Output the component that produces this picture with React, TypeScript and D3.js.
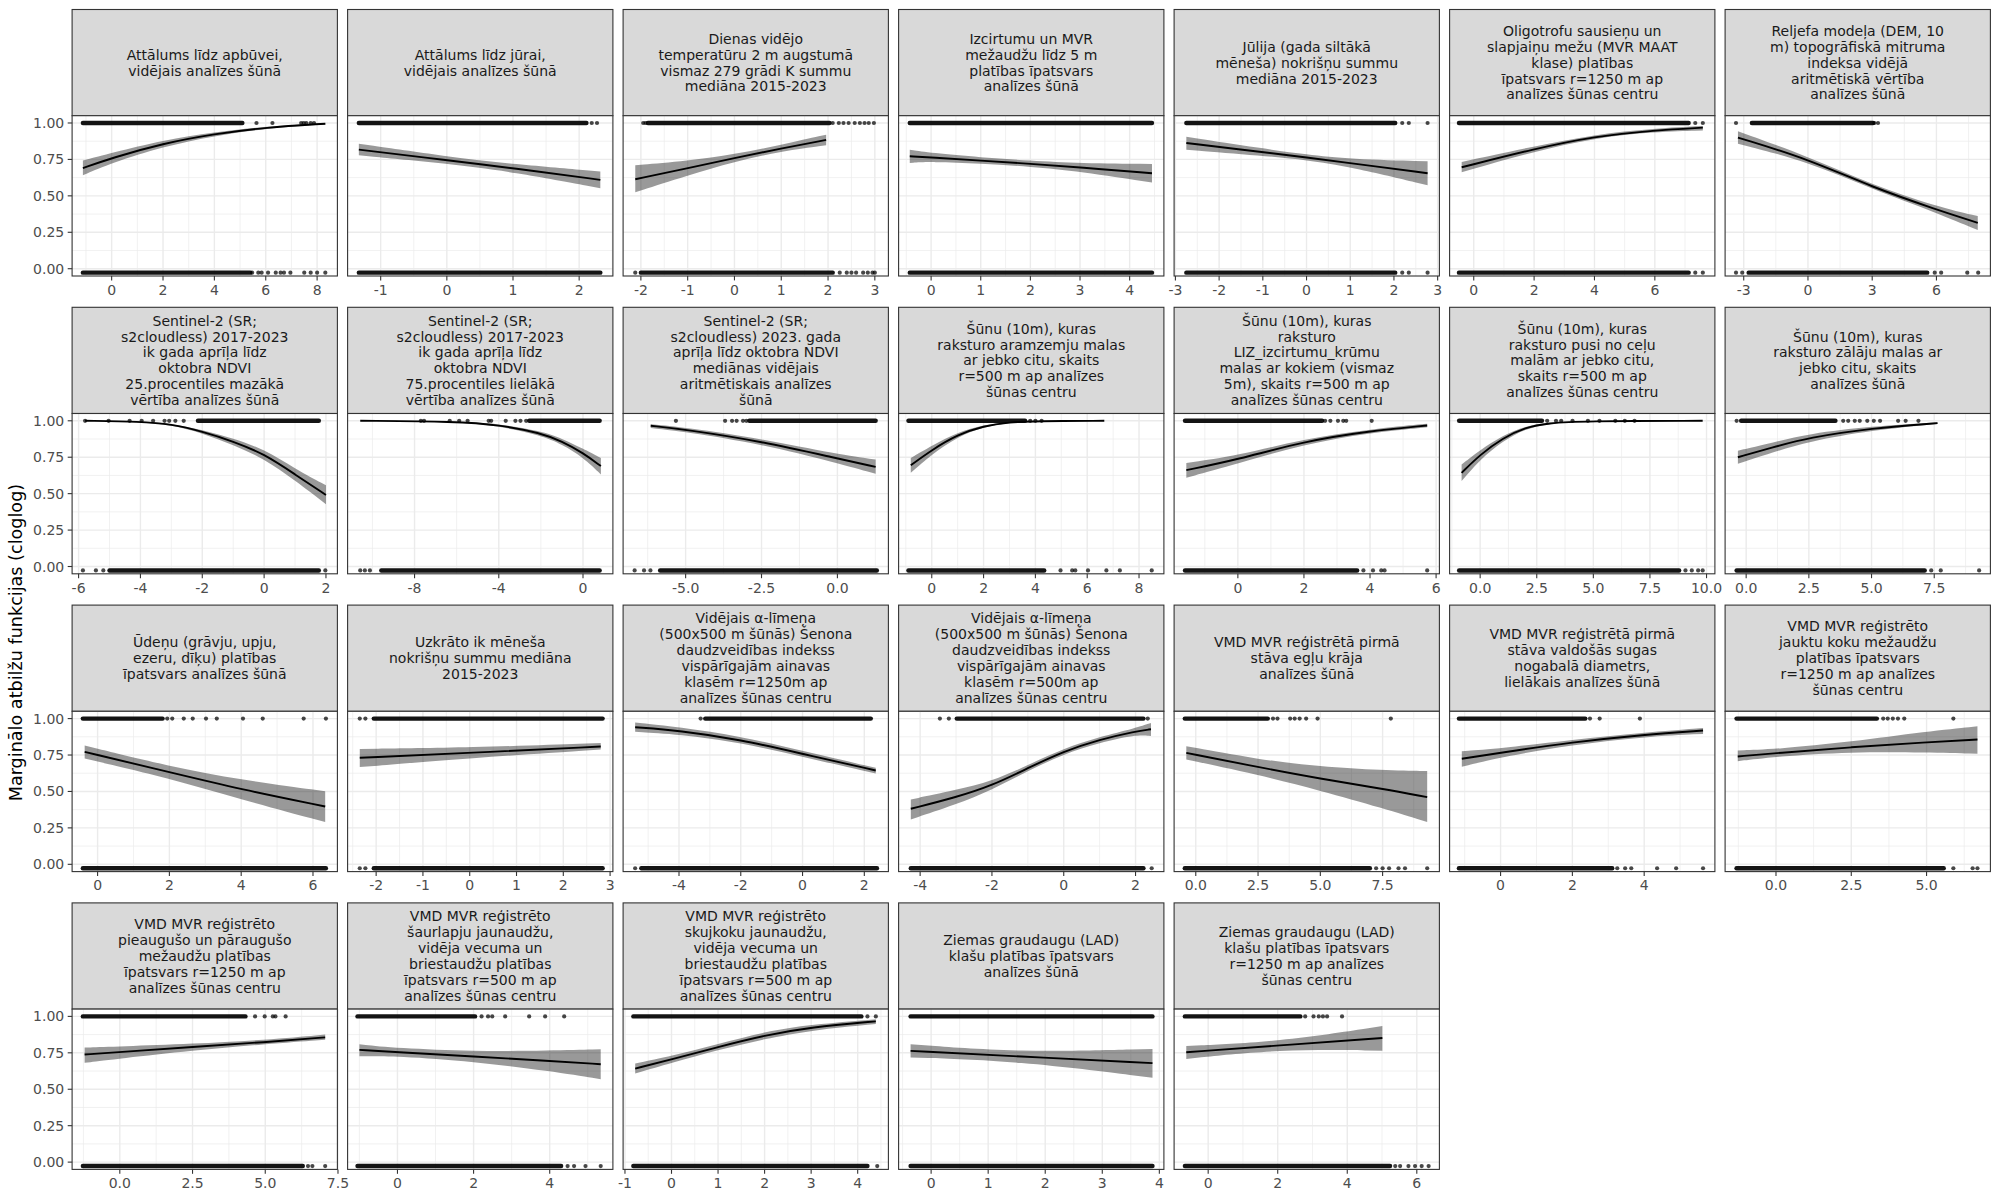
import React from 'react';
import * as d3 from 'd3';

// facet strip titles, one per panel (facet_wrap order)
const labels: string[] = [
  'Attālums līdz apbūvei,\nvidējais analīzes šūnā',
  'Attālums līdz jūrai,\nvidējais analīzes šūnā',
  'Dienas vidējo\ntemperatūru 2 m augstumā\nvismaz 279 grādi K summu\nmediāna 2015-2023',
  'Izcirtumu un MVR\nmežaudžu līdz 5 m\nplatības īpatsvars\nanalīzes šūnā',
  'Jūlija (gada siltākā\nmēneša) nokrišņu summu\nmediāna 2015-2023',
  'Oligotrofu sausieņu un\nslapjaiņu mežu (MVR MAAT\nklase) platības\nīpatsvars r=1250 m ap\nanalīzes šūnas centru',
  'Reljefa modeļa (DEM, 10\nm) topogrāfiskā mitruma\nindeksa vidējā\naritmētiskā vērtība\nanalīzes šūnā',
  'Sentinel-2 (SR;\ns2cloudless) 2017-2023\nik gada aprīļa līdz\noktobra NDVI\n25.procentiles mazākā\nvērtība analīzes šūnā',
  'Sentinel-2 (SR;\ns2cloudless) 2017-2023\nik gada aprīļa līdz\noktobra NDVI\n75.procentiles lielākā\nvērtība analīzes šūnā',
  'Sentinel-2 (SR;\ns2cloudless) 2023. gada\naprīļa līdz oktobra NDVI\nmediānas vidējais\naritmētiskais analīzes\nšūnā',
  'Šūnu (10m), kuras\nraksturo aramzemju malas\nar jebko citu, skaits\nr=500 m ap analīzes\nšūnas centru',
  'Šūnu (10m), kuras\nraksturo\nLIZ_izcirtumu_krūmu\nmalas ar kokiem (vismaz\n5m), skaits r=500 m ap\nanalīzes šūnas centru',
  'Šūnu (10m), kuras\nraksturo pusi no ceļu\nmalām ar jebko citu,\nskaits r=500 m ap\nanalīzes šūnas centru',
  'Šūnu (10m), kuras\nraksturo zālāju malas ar\njebko citu, skaits\nanalīzes šūnā',
  'Ūdeņu (grāvju, upju,\nezeru, dīķu) platības\nīpatsvars analīzes šūnā',
  'Uzkrāto ik mēneša\nnokrišņu summu mediāna\n2015-2023',
  'Vidējais α-līmeņa\n(500x500 m šūnās) Šenona\ndaudzveidības indekss\nvispārīgajām ainavas\nklasēm r=1250m ap\nanalīzes šūnas centru',
  'Vidējais α-līmeņa\n(500x500 m šūnās) Šenona\ndaudzveidības indekss\nvispārīgajām ainavas\nklasēm r=500m ap\nanalīzes šūnas centru',
  'VMD MVR reģistrētā pirmā\nstāva egļu krāja\nanalīzes šūnā',
  'VMD MVR reģistrētā pirmā\nstāva valdošās sugas\nnogabalā diametrs,\nlielākais analīzes šūnā',
  'VMD MVR reģistrēto\njauktu koku mežaudžu\nplatības īpatsvars\nr=1250 m ap analīzes\nšūnas centru',
  'VMD MVR reģistrēto\npieaugušo un pāraugušo\nmežaudžu platības\nīpatsvars r=1250 m ap\nanalīzes šūnas centru',
  'VMD MVR reģistrēto\nšaurlapju jaunaudžu,\nvidēja vecuma un\nbriestaudžu platības\nīpatsvars r=500 m ap\nanalīzes šūnas centru',
  'VMD MVR reģistrēto\nskujkoku jaunaudžu,\nvidēja vecuma un\nbriestaudžu platības\nīpatsvars r=500 m ap\nanalīzes šūnas centru',
  'Ziemas graudaugu (LAD)\nklašu platības īpatsvars\nanalīzes šūnā',
  'Ziemas graudaugu (LAD)\nklašu platības īpatsvars\nr=1250 m ap analīzes\nšūnas centru',
];

// free x scales
const xDomains: [number, number][] = [
  [-1.54, 8.79], [-1.5, 2.51], [-2.38, 3.29], [-0.655, 4.69], [-3.03, 3.04], [-0.8, 7.99], [-3.87, 8.52],
  [-6.21, 2.37], [-11.18, 1.42], [-7.06, 1.68], [-1.28, 8.96], [-1.93, 6.1], [-1.35, 10.37], [-0.84, 9.74],
  [-0.71, 6.68], [-2.61, 3.06], [-5.81, 2.78], [-4.6, 2.79], [-0.87, 9.78], [-1.42, 5.97], [-1.69, 7.12],
  [-1.64, 7.48], [-1.31, 5.66], [-1.04, 4.66], [-0.57, 4.08], [-0.98, 6.65],
];

const xTickLabels: string[][] = [
  ['0', '2', '4', '6', '8'], ['-1', '0', '1', '2'], ['-2', '-1', '0', '1', '2', '3'], ['0', '1', '2', '3', '4'],
  ['-3', '-2', '-1', '0', '1', '2', '3'], ['0', '2', '4', '6'], ['-3', '0', '3', '6'],
  ['-6', '-4', '-2', '0', '2'], ['-8', '-4', '0'], ['-5.0', '-2.5', '0.0'], ['0', '2', '4', '6', '8'],
  ['0', '2', '4', '6'], ['0.0', '2.5', '5.0', '7.5', '10.0'], ['0.0', '2.5', '5.0', '7.5'],
  ['0', '2', '4', '6'], ['-2', '-1', '0', '1', '2', '3'], ['-4', '-2', '0', '2'], ['-4', '-2', '0', '2'],
  ['0.0', '2.5', '5.0', '7.5'], ['0', '2', '4'], ['0.0', '2.5', '5.0'],
  ['0.0', '2.5', '5.0', '7.5'], ['0', '2', '4'], ['-1', '0', '1', '2', '3', '4'], ['0', '1', '2', '3', '4'],
  ['0', '2', '4', '6'],
];

const yTickLabels = ['0.00', '0.25', '0.50', '0.75', '1.00'];
const yTitle = 'Marginālo atbilžu funkcijas (cloglog)';

// response curves: x, fitted value, ribbon low / high
const fitX: number[][] = [
  [-1.12, 0, 2, 4, 6, 8.32], [-1.33, 0, 1, 2.32], [-2.12, -1, 0, 1, 1.96], [-0.43, 0, 1, 2, 3, 4.45],
  [-2.75, -1, 0, 1, 2.77], [-0.4, 2, 4, 6, 7.59], [-3.27, 0, 3, 6, 7.93],
  [-5.79, -4, -3, -2, -1, 0, 1, 2], [-10.58, -6, -4, -2, -1, 0, 0.85], [-6.15, -5, -2.5, 0, 1.26],
  [-0.81, 0, 1, 2, 3, 4, 6.66], [-1.56, 0, 2, 4, 5.73], [-0.82, 0, 1, 2, 3, 4.5, 9.83], [-0.33, 1, 2.5, 5, 7.63],
  [-0.36, 2, 4, 6.34], [-2.35, 0, 2.8], [-5.42, -4, -2, 0, 2.37], [-4.26, -3, -2, -1, 0, 1, 2, 2.43],
  [-0.38, 2.5, 5, 7.5, 9.29], [-1.08, 0, 2, 4, 5.64], [-1.27, 0, 2.5, 5, 6.69],
  [-1.21, 0, 2.5, 5, 7.06], [-1, 0, 2, 4, 5.34], [-0.78, 0, 1, 2, 3, 4.39], [-0.36, 1.5, 3.88], [-0.63, 2, 5.01],
];
const fitY: number[][] = [
  [0.69, 0.76, 0.86, 0.925, 0.97, 0.995], [0.817, 0.745, 0.69, 0.61], [0.614, 0.69, 0.76, 0.825, 0.884],
  [0.772, 0.763, 0.742, 0.72, 0.695, 0.655], [0.863, 0.8, 0.763, 0.725, 0.655], [0.696, 0.822, 0.909, 0.95, 0.968],
  [0.9, 0.753, 0.559, 0.406, 0.315],
  [1.0, 0.995, 0.977, 0.927, 0.859, 0.773, 0.632, 0.491], [1.0, 0.995, 0.973, 0.916, 0.859, 0.78, 0.689],
  [0.966, 0.94, 0.859, 0.741, 0.684], [0.695, 0.8, 0.905, 0.965, 0.99, 0.998, 1.0], [0.661, 0.734, 0.859, 0.93, 0.968],
  [0.643, 0.768, 0.882, 0.955, 0.984, 0.998, 1.0], [0.75, 0.815, 0.885, 0.95, 0.984],
  [0.772, 0.632, 0.514, 0.397], [0.731, 0.765, 0.808], [0.941, 0.918, 0.856, 0.758, 0.644],
  [0.381, 0.46, 0.54, 0.66, 0.776, 0.856, 0.913, 0.927], [0.765, 0.667, 0.587, 0.518, 0.461],
  [0.724, 0.766, 0.838, 0.89, 0.918], [0.74, 0.763, 0.804, 0.838, 0.856],
  [0.738, 0.755, 0.79, 0.823, 0.856], [0.77, 0.755, 0.725, 0.694, 0.672], [0.642, 0.705, 0.79, 0.87, 0.927, 0.966],
  [0.763, 0.726, 0.679], [0.754, 0.8, 0.852],
];
const fitLo: number[][] = [
  [0.642, 0.725, 0.838, 0.912, 0.962, 0.99], [0.778, 0.722, 0.664, 0.553], [0.525, 0.64, 0.735, 0.805, 0.847],
  [0.726, 0.735, 0.722, 0.7, 0.668, 0.591], [0.817, 0.775, 0.745, 0.7, 0.573], [0.662, 0.805, 0.897, 0.94, 0.948],
  [0.858, 0.735, 0.545, 0.385, 0.265],
  [1.0, 0.993, 0.972, 0.915, 0.835, 0.74, 0.59, 0.427], [1.0, 0.993, 0.965, 0.9, 0.838, 0.75, 0.632],
  [0.95, 0.925, 0.84, 0.71, 0.636], [0.643, 0.77, 0.89, 0.958, 0.987, 0.997, 1.0], [0.609, 0.705, 0.84, 0.918, 0.955],
  [0.586, 0.735, 0.862, 0.945, 0.98, 0.997, 1.0], [0.705, 0.78, 0.858, 0.935, 0.978],
  [0.726, 0.59, 0.445, 0.29], [0.667, 0.728, 0.788], [0.909, 0.892, 0.835, 0.738, 0.623],
  [0.308, 0.41, 0.51, 0.64, 0.757, 0.835, 0.89, 0.88], [0.719, 0.615, 0.505, 0.385, 0.29],
  [0.669, 0.735, 0.82, 0.875, 0.895], [0.708, 0.74, 0.772, 0.768, 0.758],
  [0.681, 0.71, 0.765, 0.81, 0.84], [0.727, 0.728, 0.69, 0.625, 0.569], [0.608, 0.68, 0.77, 0.845, 0.905, 0.948],
  [0.718, 0.695, 0.579], [0.708, 0.775, 0.765],
];
const fitHi: number[][] = [
  [0.742, 0.795, 0.882, 0.938, 0.977, 0.998], [0.858, 0.77, 0.718, 0.667], [0.71, 0.74, 0.785, 0.85, 0.92],
  [0.817, 0.795, 0.764, 0.742, 0.722, 0.719], [0.906, 0.825, 0.783, 0.752, 0.737], [0.733, 0.84, 0.921, 0.962, 0.98],
  [0.943, 0.771, 0.575, 0.428, 0.361],
  [1.0, 0.997, 0.982, 0.937, 0.88, 0.805, 0.672, 0.557], [1.0, 0.997, 0.98, 0.93, 0.878, 0.808, 0.745],
  [0.977, 0.955, 0.877, 0.77, 0.734], [0.745, 0.83, 0.92, 0.972, 0.993, 0.999, 1.0], [0.711, 0.762, 0.876, 0.942, 0.98],
  [0.7, 0.8, 0.9, 0.965, 0.988, 0.999, 1.0], [0.795, 0.848, 0.912, 0.962, 0.99],
  [0.815, 0.672, 0.58, 0.502], [0.792, 0.8, 0.833], [0.973, 0.942, 0.878, 0.778, 0.662],
  [0.445, 0.51, 0.57, 0.68, 0.795, 0.875, 0.935, 0.97], [0.811, 0.72, 0.67, 0.645, 0.64],
  [0.776, 0.795, 0.855, 0.905, 0.936], [0.781, 0.79, 0.84, 0.912, 0.947],
  [0.786, 0.793, 0.812, 0.838, 0.875], [0.809, 0.782, 0.76, 0.765, 0.774], [0.677, 0.728, 0.81, 0.895, 0.945, 0.98],
  [0.809, 0.752, 0.777], [0.797, 0.825, 0.934],
];

// observations at presence (1) and background (0): dense runs and isolated points
const rugTopDense: [number, number][][] = [
  [[-1.12, 5.09]], [[-1.33, 2.11]], [[-1.85, 2.03]], [[-0.43, 4.45]], [[-2.75, 2.03]], [[-0.49, 7.12]], [[-2.62, 3.04]],
  [[-2.14, 1.77]], [[-2.55, 0.79]], [[-2.9, 1.26]], [[-0.9, 3.6]], [[-1.6, 2.55]], [[-0.93, 2.73]], [[-0.2, 3.56]],
  [[-0.41, 1.81]], [[-2.05, 2.84]], [[-3.15, 2.21]], [[-2.98, 2.22]], [[-0.44, 2.89]], [[-1.16, 2.36]], [[-1.31, 3.35]],
  [[-1.27, 4.32]], [[-1.05, 2.04]], [[-0.82, 4.08]], [[-0.36, 3.88]], [[-0.67, 2.65]],
];
const rugTopSparse: number[][] = [
  [5.64, 6.26, 7.38, 7.48, 7.58, 7.75, 7.88], [2.19, 2.27],
  [-1.95, -1.9, 2.1, 2.23, 2.33, 2.44, 2.57, 2.68, 2.78, 2.87, 2.98], [], [2.19, 2.34, 2.77], [7.34, 7.59],
  [-3.36, 3.1, 3.27],
  [-5.79, -5.03, -4.35, -3.96, -3.59, -3.22, -3.07, -2.87, -2.6],
  [-7.7, -7.55, -6.33, -5.88, -5.48, -4.48, -4.36, -3.67, -3.21, -2.97, -2.7],
  [-5.32, -3.7, -3.47, -3.32, -3.11, -3.0], [3.8, 4.0, 4.24], [2.64, 2.8, 3.03, 3.19, 3.28, 4.05],
  [2.96, 3.35, 3.58, 4.08, 4.76, 5.27, 5.97, 6.39, 6.82],
  [-0.38, 3.87, 4.07, 4.33, 4.53, 4.83, 5.09, 5.34, 6.06, 6.36, 6.87],
  [1.94, 2.08, 2.4, 2.65, 3.02, 3.32, 4.05, 4.6, 5.74, 6.36], [-2.35, -2.23], [-3.3], [-3.45, -3.2, 2.34],
  [3.1, 3.28, 3.79, 3.97, 4.17, 4.43, 4.89, 7.83], [2.49, 2.76, 3.88], [3.56, 3.71, 3.88, 4.05, 4.26, 5.89],
  [4.65, 4.98, 5.26, 5.35, 5.7], [2.21, 2.38, 2.49, 2.83, 3.46, 3.88, 4.38], [4.21, 4.39], [],
  [2.79, 3.03, 3.18, 3.3, 3.42, 3.85],
];
const rugBotDense: [number, number][][] = [
  [[-1.12, 5.4]], [[-1.33, 2.32]], [[-2.0, 2.1]], [[-0.43, 4.45]], [[-2.75, 2.03]], [[-0.49, 7.12]], [[-2.77, 5.57]],
  [[-5.0, 1.77]], [[-9.58, 0.79]], [[-5.84, 1.3]], [[-0.9, 4.34]], [[-1.6, 3.61]], [[-0.93, 8.79]], [[-0.38, 7.12]],
  [[-0.41, 6.36]], [[-2.05, 2.84]], [[-5.22, 2.41]], [[-4.26, 2.22]], [[-0.44, 6.99]], [[-1.16, 3.11]], [[-1.31, 5.57]],
  [[-1.27, 6.29]], [[-1.05, 4.3]], [[-0.82, 4.21]], [[-0.36, 3.88]], [[-0.67, 5.23]],
];
const rugBotSparse: number[][] = [
  [5.47, 5.71, 5.84, 6.09, 6.39, 6.58, 6.71, 6.96, 7.5, 7.75, 8.0, 8.32], [],
  [-2.12, 2.25, 2.4, 2.5, 2.6, 2.75, 2.85, 2.95, 3.0], [], [2.19, 2.34, 2.77], [7.34, 7.59],
  [-3.36, -3.07, 5.92, 6.22, 7.44, 7.95],
  [-5.86, -5.44, -5.2, 1.98], [-10.58, -10.36, -10.12], [-6.68, -6.37, -6.16],
  [4.97, 5.42, 5.54, 6.03, 6.74, 7.26, 8.49], [3.8, 4.09, 4.34, 4.44, 5.73], [9.07, 9.35, 9.63, 9.83],
  [7.38, 7.76, 9.29],
  [], [-2.35, -2.23], [-5.42], [2.45], [7.24, 7.5, 7.76, 8.14, 8.4, 9.29], [3.25, 3.47, 3.64, 4.36, 4.89, 5.64],
  [5.89, 6.53, 6.69],
  [6.47, 6.62, 7.06], [4.47, 4.64, 4.94, 5.34], [4.42], [], [5.38, 5.52, 5.76, 5.95, 6.14, 6.34],
];

const RUG_TOP = 1.0;
const RUG_BOT = -0.027;

// layout
const NCOL = 7;
const left0 = 72.1;
const pitchX = 275.5;
const panelW = 265.3;
const top0 = 9.5;
const pitchY = 297.8;
const stripH = 106.2;
const panelH = 160.3;
const tickLen = 4.4;
const font = '"DejaVu Sans", Verdana, sans-serif';

const y = d3.scaleLinear().domain([-0.05, 1.05]).range([panelH, 0]);

type Pt = { x: number; y: number; lo: number; hi: number };

function Panel({ i }: { i: number }) {
  const col = i % NCOL;
  const row = Math.floor(i / NCOL);
  const px = left0 + col * pitchX;
  const sy = top0 + row * pitchY;
  const py = sy + stripH;

  const x = d3.scaleLinear().domain(xDomains[i]).range([0, panelW]);
  const ticks = xTickLabels[i].map(Number);
  const step = ticks[1] - ticks[0];
  const minorX = [ticks[0] - step / 2, ...ticks.map((t) => t + step / 2)].filter(
    (v) => v > xDomains[i][0] && v < xDomains[i][1]
  );
  const majorY = [0, 0.25, 0.5, 0.75, 1];
  const minorY = [0.125, 0.375, 0.625, 0.875];

  const pts: Pt[] = fitX[i].map((v, k) => ({ x: v, y: fitY[i][k], lo: fitLo[i][k], hi: fitHi[i][k] }));
  // smooth through the read-off points
  const line = d3
    .line<Pt>()
    .x((d) => x(d.x))
    .y((d) => y(d.y))
    .curve(d3.curveBasis);
  const area = d3
    .area<Pt>()
    .x((d) => x(d.x))
    .y0((d) => y(d.lo))
    .y1((d) => y(d.hi))
    .curve(d3.curveBasis);

  const lines = labels[i].split('\n');
  const stripMid = sy + stripH / 2;

  const rug = (dense: [number, number][], sparse: number[], yv: number, key: string) => (
    <g key={key}>
      {dense.map(([a, b], k) => (
        <line
          key={k}
          x1={x(a)}
          x2={x(b)}
          y1={y(yv)}
          y2={y(yv)}
          stroke="#000"
          strokeWidth={4.4}
          strokeLinecap="round"
          strokeOpacity={0.92}
        />
      ))}
      {sparse.map((v, k) => (
        <circle key={'s' + k} cx={x(v)} cy={y(yv)} r={2.1} fill="#000" fillOpacity={0.72} />
      ))}
    </g>
  );

  return (
    <g>
      {/* strip */}
      <rect x={px} y={sy} width={panelW} height={stripH} fill="#D9D9D9" stroke="#333333" strokeWidth={1.1} />
      <text fontFamily={font} fontSize={14} fill="#1A1A1A" textAnchor="middle">
        {lines.map((s, k) => (
          <tspan key={k} x={px + panelW / 2} y={stripMid + (k - (lines.length - 1) / 2) * 15.9} dominantBaseline="central">
            {s}
          </tspan>
        ))}
      </text>

      <g transform={`translate(${px},${py})`}>
        <rect width={panelW} height={panelH} fill="#fff" />
        {minorY.map((v) => (
          <line key={'my' + v} x1={0} x2={panelW} y1={y(v)} y2={y(v)} stroke="#EBEBEB" strokeWidth={0.7} />
        ))}
        {minorX.map((v) => (
          <line key={'mx' + v} x1={x(v)} x2={x(v)} y1={0} y2={panelH} stroke="#EBEBEB" strokeWidth={0.7} />
        ))}
        {majorY.map((v) => (
          <line key={'gy' + v} x1={0} x2={panelW} y1={y(v)} y2={y(v)} stroke="#EBEBEB" strokeWidth={1.4} />
        ))}
        {ticks.map((v) => (
          <line key={'gx' + v} x1={x(v)} x2={x(v)} y1={0} y2={panelH} stroke="#EBEBEB" strokeWidth={1.4} />
        ))}

        {rug(rugTopDense[i], rugTopSparse[i], RUG_TOP, 'top')}
        {rug(rugBotDense[i], rugBotSparse[i], RUG_BOT, 'bot')}

        <path d={area(pts) || ''} fill="#000" fillOpacity={0.4} />
        <path d={line(pts) || ''} fill="none" stroke="#000" strokeWidth={1.9} />

        <rect width={panelW} height={panelH} fill="none" stroke="#333333" strokeWidth={1.1} />

        {/* x axis */}
        {ticks.map((v, k) => (
          <g key={'xt' + k} transform={`translate(${x(v)},${panelH})`}>
            <line y1={0} y2={tickLen} stroke="#333333" strokeWidth={1.1} />
            <text
              y={tickLen + 4.5}
              dy="0.71em"
              textAnchor="middle"
              fontFamily={font}
              fontSize={14}
              fill="#4D4D4D"
            >
              {xTickLabels[i][k]}
            </text>
          </g>
        ))}

        {/* y axis on first column only */}
        {col === 0 &&
          majorY.map((v, k) => (
            <g key={'yt' + k} transform={`translate(0,${y(v)})`}>
              <line x1={-tickLen} x2={0} stroke="#333333" strokeWidth={1.1} />
              <text
                x={-tickLen - 3.5}
                dominantBaseline="central"
                textAnchor="end"
                fontFamily={font}
                fontSize={14}
                fill="#4D4D4D"
              >
                {yTickLabels[k]}
              </text>
            </g>
          ))}
      </g>
    </g>
  );
}

export default function App() {
  const firstTop = top0 + stripH;
  const lastBottom = top0 + 3 * pitchY + stripH + panelH;
  const titleY = (firstTop + lastBottom) / 2;
  return (
    <svg
      width={2000}
      height={1200}
      style={{ position: 'absolute', left: 0, top: 0, background: '#fff' }}
    >
      <rect width={2000} height={1200} fill="#fff" />
      {labels.map((_, i) => (
        <Panel key={i} i={i} />
      ))}
      <text
        transform={`translate(16,${titleY}) rotate(-90)`}
        textAnchor="middle"
        dominantBaseline="central"
        fontFamily={font}
        fontSize={17.6}
        fill="#000"
      >
        {yTitle}
      </text>
    </svg>
  );
}
